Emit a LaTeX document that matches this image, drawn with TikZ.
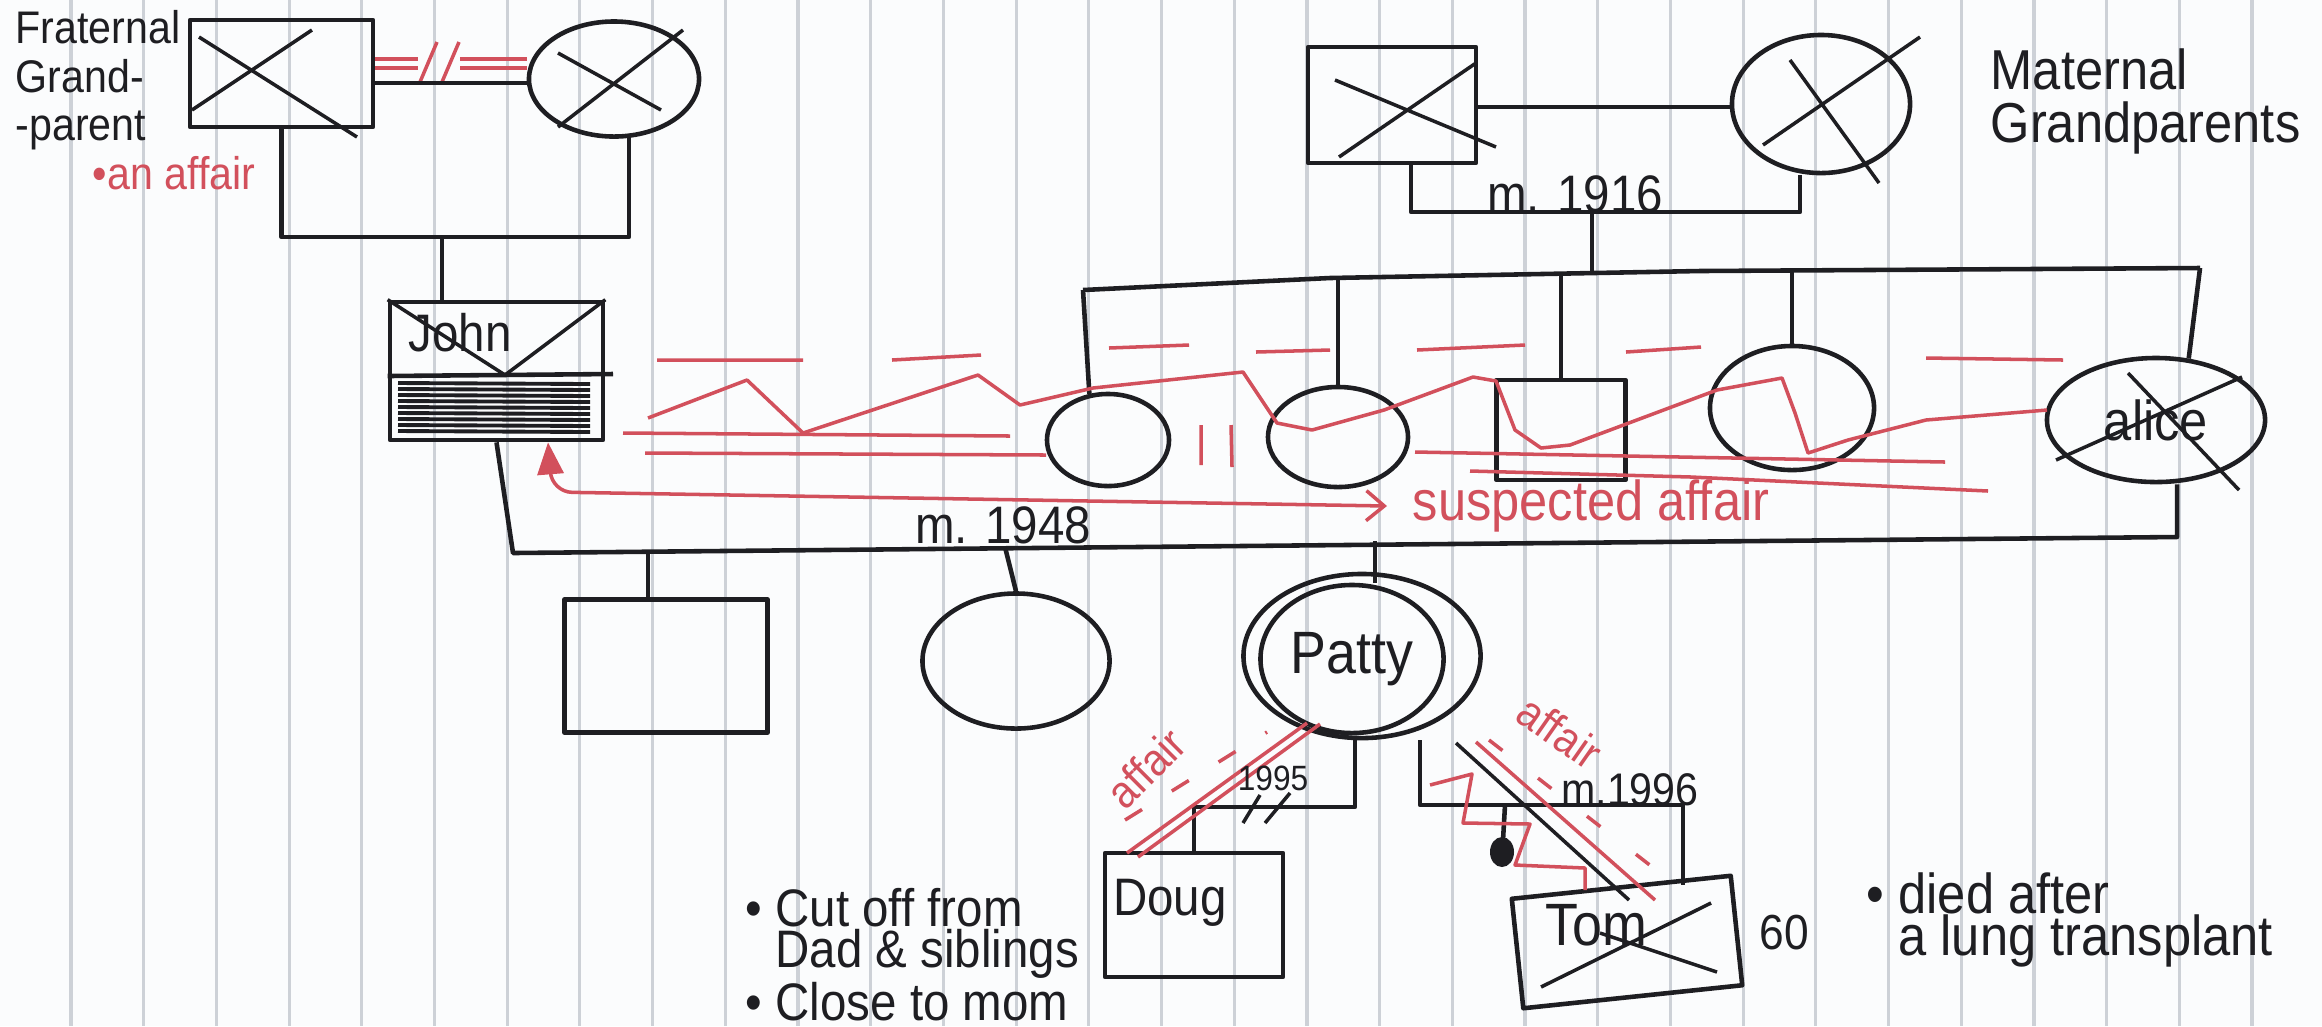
\documentclass[tikz,border=0pt]{standalone}
\usepackage{fontspec}
\setmainfont{Liberation Sans}[FakeStretch=0.9]
\usetikzlibrary{shapes.geometric,arrows.meta}
\definecolor{ink}{RGB}{30,30,34}
\definecolor{pen}{RGB}{210,80,92}
\definecolor{ruling}{RGB}{205,209,215}
\definecolor{paper}{RGB}{251,252,253}
\newcommand{\hwsize}[2]{\fontsize{#1}{#2}\selectfont}
\begin{document}
\begin{tikzpicture}[x=0.01cm,y=-0.01cm,
  blk/.style={draw=ink,line width=1.3pt,line join=round},
  male/.style={blk,rectangle,inner sep=0pt},
  female/.style={blk,ellipse,inner sep=0pt},
  rel/.style={draw=pen,line width=1pt,line join=round},
  xmark/.style={draw=ink,line width=1pt},
  lbl/.style={inner sep=0pt,text=ink},
  rlbl/.style={inner sep=0pt,text=pen},
]
\fill[paper] (0,0) rectangle (2322,1026);
\useasboundingbox (0,0) rectangle (2322,1026);
\foreach \k in {0,...,31} \draw[ruling,line width=0.9pt] ({71+72.7*\k},0) -- ({71+72.7*\k},1026);

% ---------- people ----------
\node[male,minimum width=1.83cm,minimum height=1.07cm] (PGF) at (281.5,73.5) {};
\node[female,minimum width=1.70cm,minimum height=1.15cm] (PGM) at (614,79) {};
\node[male,minimum width=1.68cm,minimum height=1.16cm] (MGF) at (1392,105) {};
\node[female,minimum width=1.78cm,minimum height=1.38cm] (MGM) at (1821,104) {};
\node[male,minimum width=2.13cm,minimum height=1.38cm] (John) at (496.5,371) {};
\node[female,minimum width=1.22cm,minimum height=0.92cm] (C1) at (1108,440) {};
\node[female,minimum width=1.40cm,minimum height=1.00cm] (C2) at (1338,437) {};
\node[male,minimum width=1.29cm,minimum height=1.00cm] (S3) at (1561,430) {};
\node[female,minimum width=1.64cm,minimum height=1.24cm] (C4) at (1792,408) {};
\node[female,minimum width=2.18cm,minimum height=1.24cm,font=\hwsize{16}{16},text=ink] (Alice) at (2156,420) {alice};
\node[male,minimum width=2.03cm,minimum height=1.33cm] (JA1) at (666,666) {};
\node[female,minimum width=1.87cm,minimum height=1.35cm] (JA2) at (1016,661) {};
\node[female,minimum width=2.37cm,minimum height=1.64cm] (PattyO) at (1362,656) {};
\node[female,minimum width=1.83cm,minimum height=1.48cm,font=\hwsize{17}{17},text=ink] (PattyI) at (1352,659) {Patty};
\node[male,minimum width=1.78cm,minimum height=1.24cm] (Doug) at (1194,915) {};
\node[lbl,font=\hwsize{15}{15}] (DougT) at (1170,903) {Doug};
\node[male,rotate=6,minimum width=2.2cm,minimum height=1.1cm] (Tom) at (1627,942) {};
\node[lbl,font=\hwsize{17}{17}] (TomT) at (1596,925) {Tom};
\node[lbl,font=\hwsize{15}{15}] (JohnT) at (460,333) {John};

% ---------- X marks ----------
\draw[xmark] (199,37) -- (357,137) (192,110) -- (312,30);
\draw[xmark] (558,53) -- (661,110) (558,127) -- (683,30);
\draw[xmark] (1335,80) -- (1496,147) (1339,157) -- (1476,63);
\draw[xmark] (1790,60) -- (1879,183) (1920,37) -- (1763,145);
\draw[xmark] (2056,460) -- (2242,377) (2128,373) -- (2239,490);
\draw[xmark] (1541,987) -- (1711,903) (1600,933) -- (1717,972);
\draw[xmark] (John.north west) -- (505,375) -- (John.north east);
\draw[blk] (John.west |- 0,376) -- (613,374);
\foreach \yy in {383,389,...,435} \draw[ink,line width=1.1pt] (398,\yy) -- (590,\yy+1);

% ---------- paternal grandparents ----------
\draw[rel] (PGF.east |- 0,59) -- (418,59) (460,59) -- (PGM.west |- 0,59);
\draw[rel] (PGF.east |- 0,68) -- (418,68) (460,68) -- (PGM.west |- 0,68);
\draw[rel] (420,82) -- (437,42) (442,82) -- (459,42);
\draw[blk] (PGF.east |- 0,83) -- (PGM.west |- 0,83);
\coordinate (pj) at (442,237);
\draw[blk] (PGF.south) -- (PGF.south |- pj) -- (629,237) -- (629,136);
\draw[blk] (pj) -- (pj |- John.north);

% ---------- maternal grandparents ----------
\draw[blk] (MGF.east |- 0,107) -- (MGM.west |- 0,107);
\draw[blk] (MGF.south -| 1411,0) -- (1411,212) -- (1800,212) -- (MGM.south -| 1800,0);
\coordinate (mj) at (1592,212);
\draw[blk] (mj) -- (1592,272);
\draw[blk] (1083,290) -- (1330,278) -- (1700,271) -- (2200,268);
\draw[blk] (1083,290) -- (C1.112);
\draw[blk] (C2.north |- 0,277) -- (C2.north);
\draw[blk] (S3.north |- 0,273) -- (S3.north);
\draw[blk] (C4.north |- 0,271) -- (C4.north);
\draw[blk] (2200,268) -- (Alice.62);

% ---------- John & Alice ----------
\draw[blk] (John.south) -- (513,553) -- (2177,537) -- (Alice.south -| 2177,0);
\draw[blk] (648,552) -- (JA1.north -| 648,0);
\draw[blk] (1005,547) -- (JA2.north);
\draw[blk] (1375,541) -- (PattyI.north -| 1375,0);

% ---------- Patty's partners ----------
\coordinate (tj) at (1683,805);
\draw[blk] (PattyO.south -| 1355,0) -- (1355,807) -- (Doug.north |- 0,807) -- (Doug.north);
\draw[blk,line width=1pt] (1243,823) -- (1260,795) (1265,823) -- (1290,793);
\draw[blk] (PattyO.south -| 1420,0) -- (1420,805) -- (tj) -- (tj |- Tom.north);
\draw[blk] (1505,805) -- (1503,840);
\fill[ink] (1502,852) ellipse (0.12cm and 0.15cm);

% ---------- red relationship lines ----------
\draw[rel] (648,418) -- (747,380) -- (803,433) -- (978,375) -- (1020,405) -- (1093,388) -- (1243,372) -- (1277,423) -- (1312,430) -- (1384,410) -- (1473,377) -- (1496,381) -- (1515,430) -- (1541,448) -- (1570,445) -- (1717,390) -- (1782,378) -- (1795,413) -- (1808,453) -- (1848,440) -- (1926,420) -- (2047,410);
\draw[rel] (657,360) -- (803,360) (892,360) -- (981,355) (1109,348) -- (1189,345) (1256,352) -- (1330,350) (1417,350) -- (1525,345) (1626,352) -- (1701,347) (1926,358) -- (2063,360);
\draw[rel] (623,433) -- (1010,436);
\draw[rel] (645,453) -- (1046,455);
\draw[rel] (1415,452) -- (1945,462);
\draw[rel] (1470,471) -- (1691,477) -- (1988,491);
\draw[rel] (1201,425) -- (1201,465) (1231,425) -- (1232,467);

\node[rlbl,font=\hwsize{16}{16},anchor=west] (susp) at (1412,506) {suspected affair};
\draw[rel,{Triangle[length=0.32cm,width=0.26cm]}-{Straight Barb[length=0.18cm,width=0.3cm]},rounded corners=0.2cm] (John.south -| 548,0) -- (552,492) -- ([xshift=-0.25cm]susp.west);

\draw[rel] (1127,853) -- (1307,723);
\draw[rel] (1138,857) -- (1320,724);
\draw[rel,dash pattern=on 0.2cm off 0.35cm] (1125,820) -- (1267,732);
\node[rlbl,rotate=45,font=\hwsize{13}{13}] (affL) at (1146,768) {affair};

\draw[blk,line width=1pt] (1456,743) -- (1629,900);
\draw[rel] (1476,742) -- (1655,900);
\draw[rel,dash pattern=on 0.17cm off 0.45cm] (1489,740) -- (1660,873);
\node[rlbl,rotate=-35,font=\hwsize{13}{13}] (affR) at (1560,732) {affair};
\draw[rel] (1430,785) -- (1472,774) -- (1463,823) -- (1530,824) -- (1515,865) -- (1585,868) -- (1585,890);

% ---------- labels ----------
\node[lbl,anchor=north west,align=left,font=\hwsize{13}{13.7}] (pglbl) at (15,10) {Fraternal\\Grand-\\-parent};
\node[rlbl,font=\hwsize{13}{13}] (paff) at (174,173) {•an affair};
\node[lbl,anchor=north west,align=left,font=\hwsize{16}{15}] (mglbl) at (1990,48) {Maternal\\Grandparents};
\node[lbl,font=\hwsize{15}{15}] (m1916) at (1575,194) {m. 1916};
\node[lbl,font=\hwsize{15}{15}] (m1948) at (1003,525) {m. 1948};
\node[lbl,font=\hwsize{10}{10}] (y1995) at (1273,778) {1995};
\node[lbl,font=\hwsize{13}{13}] (m1996) at (1630,790) {m.1996};
\node[lbl,font=\hwsize{14}{14}] (age) at (1784,933) {60};
\node[lbl,anchor=north west,align=left,font=\hwsize{15}{11.5}] (dougnote) at (745,888) {• Cut off from\\\phantom{• }Dad \& siblings\\• Close to mom};
\node[lbl,anchor=north west,align=left,font=\hwsize{16}{12}] (tomnote) at (1866,872) {• died after\\\phantom{• }a lung transplant};
\end{tikzpicture}
\end{document}
